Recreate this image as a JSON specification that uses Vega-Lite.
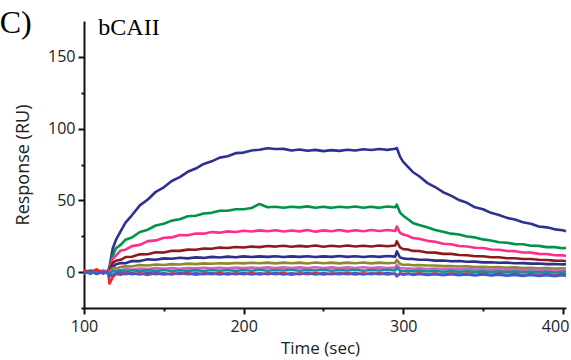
{
  "$schema": "https://vega.github.io/schema/vega-lite/v6.json",
  "width": 482,
  "height": 287,
  "autosize": {"type": "none"},
  "padding": {"left": 84, "top": 21, "right": 5, "bottom": 52},
  "background": "white",
  "config": {
    "view": {"stroke": null},
    "axis": {
      "domainColor": "#111111",
      "domainWidth": 2,
      "tickColor": "#111111",
      "tickWidth": 2,
      "grid": false,
      "labelFont": "Open Sans",
      "labelFontSize": 16,
      "labelColor": "#222222",
      "titleFont": "Open Sans",
      "titleFontSize": 17,
      "titleFontWeight": "normal",
      "titleColor": "#222222"
    }
  },
  "data": {"values": [
    {"t":100,"a":0.5,"b":-0.8,"c":1.2,"d":0.3,"e":-0.5,"f":0.8,"g":-1.0,"h":0.4,"i":1.5,"j":-0.6},
    {"t":104,"a":-0.7,"b":0.9,"c":-0.4,"d":1.0,"e":0.6,"f":-0.9,"g":0.5,"h":-1.2,"i":-0.3,"j":0.8},
    {"t":108,"a":0.9,"b":-0.3,"c":0.7,"d":-1.1,"e":1.2,"f":0.2,"g":-0.6,"h":0.9,"i":2.0,"j":-1.3},
    {"t":112,"a":-0.4,"b":0.6,"c":-1.0,"d":0.5,"e":-0.8,"f":1.1,"g":0.7,"h":-0.3,"i":-0.9,"j":0.5},
    {"t":115,"a":0.3,"b":-0.5,"c":0.8,"d":-0.6,"e":0.4,"f":-0.3,"g":1.0,"h":-0.8,"i":0.6,"j":-0.2},
    {"t":116,"a":4,"b":3,"c":2,"d":1.5,"e":1,"f":0.5,"g":0,"h":-1.5,"i":-8,"j":-3},
    {"t":118,"a":16.5,"b":11.5,"c":9.2,"d":6.3,"e":3.6,"f":2.8,"g":0.6,"h":0.9,"i":-3.5,"j":-1.8},
    {"t":120,"a":22.4,"b":16.6,"c":11.5,"d":7.9,"e":5.4,"f":2.6,"g":1.9,"h":0.3,"i":-1.2,"j":-1.0},
    {"t":123,"a":28.6,"b":19.0,"c":15.1,"d":8.6,"e":6.4,"f":3.5,"g":1.2,"h":1.1,"i":-1.8,"j":-0.4},
    {"t":126,"a":34.5,"b":22.6,"c":15.6,"d":10.5,"e":6.2,"f":4.1,"g":2.1,"h":0.4,"i":-0.6,"j":-1.5},
    {"t":130,"a":39.6,"b":24.1,"c":18.1,"d":10.7,"e":7.8,"f":3.9,"g":1.6,"h":1.3,"i":-1.5,"j":-0.7},
    {"t":135,"a":46.5,"b":28.0,"c":19.0,"d":12.4,"e":7.7,"f":4.9,"g":2.5,"h":0.6,"i":-0.8,"j":-1.6},
    {"t":140,"a":50.6,"b":29.6,"c":21.6,"d":12.5,"e":8.9,"f":4.6,"g":2.1,"h":1.4,"i":-1.9,"j":-0.5},
    {"t":145,"a":56.0,"b":32.5,"c":22.1,"d":13.9,"e":8.6,"f":5.3,"g":2.8,"h":0.7,"i":-0.7,"j":-1.4},
    {"t":150,"a":59.1,"b":33.7,"c":24.0,"d":13.7,"e":9.6,"f":5.0,"g":2.3,"h":1.5,"i":-1.6,"j":-0.8},
    {"t":155,"a":63.5,"b":35.9,"c":24.2,"d":14.9,"e":9.3,"f":5.6,"g":2.9,"h":0.8,"i":-0.9,"j":-1.6},
    {"t":160,"a":66.2,"b":36.8,"c":25.9,"d":14.8,"e":10.0,"f":5.3,"g":2.4,"h":1.3,"i":-1.3,"j":-0.6},
    {"t":165,"a":69.9,"b":38.9,"c":25.7,"d":15.7,"e":9.6,"f":5.9,"g":2.9,"h":0.9,"i":-0.6,"j":-1.5},
    {"t":170,"a":72.2,"b":39.3,"c":26.9,"d":15.6,"e":10.3,"f":5.6,"g":2.6,"h":1.4,"i":-1.8,"j":-0.9},
    {"t":175,"a":75.4,"b":40.9,"c":26.8,"d":16.5,"e":9.9,"f":6.1,"g":3.1,"h":0.8,"i":-0.9,"j":-1.4},
    {"t":180,"a":77.2,"b":41.3,"c":27.9,"d":16.3,"e":10.6,"f":5.8,"g":2.6,"h":1.5,"i":-1.4,"j":-0.7},
    {"t":185,"a":79.8,"b":42.8,"c":27.5,"d":17.1,"e":10.2,"f":6.2,"g":3.1,"h":1.0,"i":-0.7,"j":-1.6},
    {"t":190,"a":80.8,"b":42.8,"c":28.4,"d":16.8,"e":10.8,"f":5.9,"g":2.7,"h":1.5,"i":-1.7,"j":-0.8},
    {"t":195,"a":82.9,"b":43.8,"c":28.0,"d":17.5,"e":10.4,"f":6.4,"g":3.2,"h":0.9,"i":-0.8,"j":-1.5},
    {"t":200,"a":83.3,"b":43.8,"c":28.8,"d":17.2,"e":11.0,"f":6.1,"g":2.8,"h":1.5,"i":-1.5,"j":-0.7},
    {"t":205,"a":84.8,"b":44.7,"c":28.3,"d":17.8,"e":10.5,"f":6.5,"g":3.2,"h":1.0,"i":-0.6,"j":-1.6},
    {"t":210,"a":85.3,"b":47.5,"c":29.1,"d":17.4,"e":11.0,"f":6.2,"g":2.8,"h":1.6,"i":-1.7,"j":-0.8},
    {"t":215,"a":86.3,"b":45.2,"c":28.5,"d":18.2,"e":10.6,"f":6.6,"g":3.3,"h":1.0,"i":-0.8,"j":-1.5},
    {"t":220,"a":85.8,"b":45.6,"c":29.2,"d":17.8,"e":11.1,"f":6.1,"g":2.8,"h":1.5,"i":-1.4,"j":-0.7},
    {"t":225,"a":85.9,"b":44.8,"c":28.3,"d":18.4,"e":10.5,"f":6.6,"g":3.3,"h":1.1,"i":-0.7,"j":-1.6},
    {"t":230,"a":84.8,"b":45.6,"c":29.0,"d":17.7,"e":11.0,"f":6.2,"g":2.9,"h":1.6,"i":-1.8,"j":-0.8},
    {"t":235,"a":85.4,"b":45.1,"c":28.4,"d":18.3,"e":10.6,"f":6.6,"g":3.3,"h":1.0,"i":-0.8,"j":-1.5},
    {"t":240,"a":84.6,"b":45.8,"c":29.3,"d":17.8,"e":11.1,"f":6.0,"g":2.8,"h":1.5,"i":-1.5,"j":-0.6},
    {"t":245,"a":85.2,"b":44.9,"c":28.2,"d":18.5,"e":10.5,"f":6.7,"g":3.4,"h":1.1,"i":-0.7,"j":-1.6},
    {"t":250,"a":84.3,"b":45.5,"c":29.1,"d":17.7,"e":11.0,"f":6.2,"g":2.9,"h":1.6,"i":-1.7,"j":-0.7},
    {"t":255,"a":85.0,"b":44.8,"c":28.5,"d":18.4,"e":10.6,"f":6.6,"g":3.3,"h":1.0,"i":-0.9,"j":-1.5},
    {"t":260,"a":84.5,"b":45.6,"c":29.3,"d":17.9,"e":11.2,"f":6.1,"g":2.8,"h":1.5,"i":-1.4,"j":-0.8},
    {"t":265,"a":85.3,"b":45.0,"c":28.4,"d":18.5,"e":10.6,"f":6.6,"g":3.3,"h":1.1,"i":-0.7,"j":-1.5},
    {"t":270,"a":84.7,"b":45.7,"c":29.2,"d":17.8,"e":11.1,"f":6.2,"g":2.9,"h":1.6,"i":-1.6,"j":-0.7},
    {"t":275,"a":85.6,"b":44.9,"c":28.5,"d":18.4,"e":10.5,"f":6.7,"g":3.4,"h":1.0,"i":-0.8,"j":-1.6},
    {"t":280,"a":85.1,"b":45.5,"c":29.4,"d":17.9,"e":11.1,"f":6.1,"g":2.8,"h":1.5,"i":-1.5,"j":-0.8},
    {"t":285,"a":85.8,"b":44.8,"c":28.6,"d":18.6,"e":10.6,"f":6.6,"g":3.3,"h":1.1,"i":-0.7,"j":-1.5},
    {"t":290,"a":85.2,"b":45.7,"c":29.3,"d":18.0,"e":11.2,"f":6.2,"g":2.9,"h":1.6,"i":-1.7,"j":-0.7},
    {"t":295,"a":86.0,"b":45.2,"c":28.7,"d":18.5,"e":10.8,"f":6.5,"g":3.2,"h":1.1,"i":-1.0,"j":-1.3},
    {"t":296,"a":86.5,"b":47.0,"c":31.8,"d":21.5,"e":14.5,"f":8.5,"g":5.0,"h":3.0,"i":-3.0,"j":-2.5},
    {"t":298,"a":80.5,"b":41.5,"c":27.3,"d":17.2,"e":10.2,"f":5.8,"g":2.8,"h":1.0,"i":-0.8,"j":-1.2},
    {"t":300,"a":76.8,"b":39.3,"c":26.2,"d":16.0,"e":9.6,"f":5.0,"g":2.5,"h":0.6,"i":-1.5,"j":-1.8},
    {"t":303,"a":73.4,"b":36.8,"c":25.3,"d":15.8,"e":9.1,"f":5.3,"g":2.7,"h":0.9,"i":-0.9,"j":-1.2},
    {"t":306,"a":69.8,"b":34.3,"c":23.8,"d":14.8,"e":9.2,"f":4.8,"g":2.4,"h":0.5,"i":-1.6,"j":-1.9},
    {"t":310,"a":66.8,"b":32.8,"c":23.2,"d":14.7,"e":8.6,"f":5.0,"g":2.6,"h":0.9,"i":-0.8,"j":-1.3},
    {"t":315,"a":62.2,"b":31.2,"c":21.8,"d":13.7,"e":8.6,"f":4.6,"g":2.2,"h":0.4,"i":-1.7,"j":-2.0},
    {"t":320,"a":59.3,"b":29.3,"c":21.2,"d":13.6,"e":8.0,"f":4.6,"g":2.5,"h":0.8,"i":-1.0,"j":-1.4},
    {"t":325,"a":55.7,"b":28.2,"c":19.8,"d":12.7,"e":8.1,"f":4.2,"g":2.1,"h":0.3,"i":-1.8,"j":-2.1},
    {"t":330,"a":53.3,"b":26.8,"c":19.4,"d":12.7,"e":7.6,"f":4.3,"g":2.3,"h":0.7,"i":-0.9,"j":-1.5},
    {"t":335,"a":50.2,"b":26.2,"c":18.2,"d":11.9,"e":7.7,"f":3.9,"g":1.9,"h":0.3,"i":-1.7,"j":-2.2},
    {"t":340,"a":48.3,"b":24.8,"c":17.9,"d":11.8,"e":7.2,"f":4.0,"g":2.2,"h":0.6,"i":-1.0,"j":-1.6},
    {"t":345,"a":45.2,"b":24.2,"c":17.0,"d":11.1,"e":7.3,"f":3.6,"g":1.8,"h":0.2,"i":-1.8,"j":-2.3},
    {"t":350,"a":43.8,"b":22.8,"c":16.8,"d":11.1,"e":6.8,"f":3.7,"g":2.0,"h":0.5,"i":-1.1,"j":-1.7},
    {"t":355,"a":41.3,"b":22.0,"c":15.8,"d":10.4,"e":6.9,"f":3.3,"g":1.7,"h":0.1,"i":-1.9,"j":-2.4},
    {"t":360,"a":39.8,"b":20.8,"c":15.6,"d":10.4,"e":6.5,"f":3.5,"g":1.9,"h":0.4,"i":-1.2,"j":-1.8},
    {"t":365,"a":37.8,"b":20.5,"c":14.7,"d":9.7,"e":6.6,"f":3.1,"g":1.6,"h":0.0,"i":-2.0,"j":-2.5},
    {"t":370,"a":36.7,"b":19.5,"c":14.6,"d":9.7,"e":6.2,"f":3.3,"g":1.8,"h":0.4,"i":-1.2,"j":-1.9},
    {"t":375,"a":34.8,"b":19.4,"c":13.7,"d":9.1,"e":6.3,"f":2.9,"g":1.5,"h":-0.1,"i":-2.0,"j":-2.6},
    {"t":380,"a":33.7,"b":18.4,"c":13.6,"d":9.1,"e":5.9,"f":3.1,"g":1.7,"h":0.3,"i":-1.3,"j":-2.0},
    {"t":385,"a":31.8,"b":18.3,"c":12.7,"d":8.6,"e":6.0,"f":2.7,"g":1.4,"h":-0.2,"i":-2.1,"j":-2.7},
    {"t":390,"a":31.2,"b":17.4,"c":12.6,"d":8.5,"e":5.6,"f":2.9,"g":1.6,"h":0.2,"i":-1.3,"j":-2.1},
    {"t":395,"a":29.8,"b":17.4,"c":11.8,"d":8.0,"e":5.7,"f":2.5,"g":1.3,"h":-0.3,"i":-2.1,"j":-2.8},
    {"t":400,"a":29.2,"b":16.6,"c":11.7,"d":7.9,"e":5.4,"f":2.7,"g":1.5,"h":0.1,"i":-1.4,"j":-2.2},
    {"t":402,"a":28.5,"b":16.9,"c":11.2,"d":7.6,"e":5.5,"f":2.5,"g":1.4,"h":-0.2,"i":-1.8,"j":-2.6}
  ]},
  "layer": [
    {
      "transform": [{"fold": ["a","b","c","d","e","f","g","h","i","j"], "as": ["series","value"]}],
      "mark": {"type": "line", "strokeWidth": 2.6, "strokeJoin": "round"},
      "encoding": {
        "x": {
          "field": "t", "type": "quantitative",
          "scale": {"domain": [100, 402], "nice": false, "zero": false},
          "axis": {
            "title": "Time (sec)",
            "values": [100,150,200,250,300,350,400],
            "labelExpr": "datum.value % 100 === 0 ? datum.label : ''",
            "tickSize": {"condition": {"test": "datum.value % 100 !== 0", "value": 3}, "value": 6},
            "labelAlign": {"condition": {"test": "datum.value === 400", "value": "right"}, "value": "center"},
            "labelOffset": {"condition": {"test": "datum.value === 400", "value": 6}, "value": 0},
            "labelPadding": 4,
            "labelFlush": false,
            "titlePadding": 6,
            "titleX": 236
          }
        },
        "y": {
          "field": "value", "type": "quantitative",
          "scale": {"domain": [-25, 175], "nice": false, "zero": false},
          "axis": {
            "title": "Response (RU)",
            "values": [-25,0,25,50,75,100,125,150],
            "labelExpr": "datum.value % 50 === 0 ? datum.label : ''",
            "tickSize": {"condition": {"test": "datum.value % 50 !== 0", "value": 3}, "value": 6},
            "labelPadding": 3,
            "titlePadding": 15,
            "titleFontSize": 18
          }
        },
        "color": {
          "field": "series", "type": "nominal",
          "scale": {
            "domain": ["a","b","c","d","e","f","g","h","i","j"],
            "range": ["#2e3192","#00934a","#ff2e8a","#8e1b1b","#2b3088","#8c8a2c","#c866c4","#17909c","#ee2a24","#3a5fcd"]
          },
          "legend": null
        }
      }
    },
    {
      "data": {"values": [{}]},
      "mark": {"type": "text", "font": "Liberation Serif", "fontSize": 24, "align": "left", "baseline": "alphabetic", "color": "#000000"},
      "encoding": {
        "x": {"datum": 109, "type": "quantitative"},
        "y": {"datum": 165, "type": "quantitative"},
        "text": {"value": "bCAII"}
      }
    },
    {
      "data": {"values": [{}]},
      "mark": {"type": "text", "font": "Liberation Serif", "fontSize": 32, "align": "left", "baseline": "alphabetic", "color": "#000000"},
      "encoding": {
        "x": {"datum": 47.2, "type": "quantitative"},
        "y": {"datum": 166.4, "type": "quantitative"},
        "text": {"value": "C)"}
      }
    }
  ]
}
